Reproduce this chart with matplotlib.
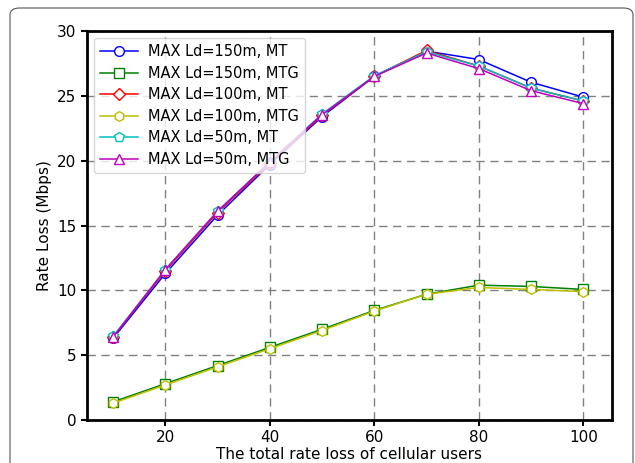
import matplotlib
matplotlib.use("Agg")
import matplotlib.pyplot as plt
from matplotlib.patches import FancyBboxPatch

x = [10, 20, 30, 40, 50, 60, 70, 80, 90, 100]
mt_150 = [6.3, 11.3, 15.8, 19.7, 23.4, 26.5, 28.45, 27.8, 26.05, 24.9]
mtg_150 = [1.4, 2.8, 4.2, 5.6, 7.0, 8.45, 9.7, 10.4, 10.3, 10.07]
mt_100 = [6.4, 11.5, 16.0, 19.8, 23.5, 26.5, 28.5, 27.3, 25.6, 24.6]
mtg_100 = [1.3, 2.7, 4.1, 5.5, 6.9, 8.4, 9.7, 10.22, 10.07, 9.9]
mt_50 = [6.45, 11.6, 16.1, 19.9, 23.6, 26.55, 28.4, 27.3, 25.6, 24.6]
mtg_50 = [6.4, 11.6, 16.1, 19.9, 23.55, 26.5, 28.3, 27.1, 25.4, 24.4]

series = [
    ("MAX Ld=150m, MT", mt_150, "b", "o"),
    ("MAX Ld=150m, MTG", mtg_150, "g", "s"),
    ("MAX Ld=100m, MT", mt_100, "r", "D"),
    ("MAX Ld=100m, MTG", mtg_100, "y", "h"),
    ("MAX Ld=50m, MT", mt_50, "c", "p"),
    ("MAX Ld=50m, MTG", mtg_50, "m", "^"),
]

fig = plt.figure(figsize=(6.35, 4.63), dpi=100)
ax = fig.add_axes([87 / 635, 1 - 420 / 463, 525 / 635, 389 / 463])

# rounded journal frame around the figure
frame = FancyBboxPatch((10 / 635, -0.1), 623 / 635, 1.1 - 8 / 463,
                       boxstyle="round,pad=0,rounding_size=0.015",
                       transform=fig.transFigure, fill=False,
                       edgecolor="#555555", linewidth=0.8, zorder=0)
fig.patches.append(frame)

for label, y, c, m in series:
    ms = 6 if m == "D" else 7
    ax.plot(x, y, color=c, marker=m, markerfacecolor="white",
            markeredgecolor=c, markersize=ms, linewidth=1.1, label=label)

ax.set_xlim(5, 105.5)
ax.set_ylim(0, 30)
ax.set_xticks([20, 40, 60, 80, 100])
ax.set_yticks([0, 5, 10, 15, 20, 25, 30])
ax.tick_params(labelsize=11, width=1.5, length=4)
ax.grid(True, linestyle=(0, (6, 4)), color="gray", linewidth=1)
for s in ax.spines.values():
    s.set_linewidth(2)
ax.set_xlabel("The total rate loss of cellular users", fontsize=11, labelpad=1)
ax.set_ylabel("Rate Loss (Mbps)", fontsize=11)
ax.legend(loc="upper left", fontsize=10.5, handlelength=2.6,
          borderaxespad=0.5, labelspacing=0.45, handletextpad=0.7)

fig.savefig("out.png", dpi=100)
